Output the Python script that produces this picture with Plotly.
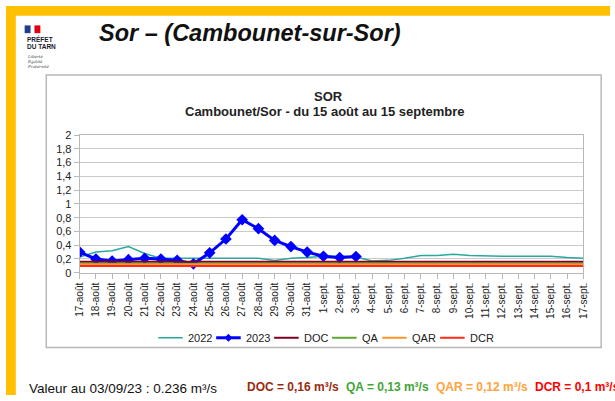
import plotly.graph_objects as go

# ---------------- data ----------------
dates = ["17-août", "18-août", "19-août", "20-août", "21-août", "22-août", "23-août",
         "24-août", "25-août", "26-août", "27-août", "28-août", "29-août", "30-août",
         "31-août", "1-sept.", "2-sept.", "3-sept.", "4-sept.", "5-sept.", "6-sept.",
         "7-sept.", "8-sept.", "9-sept.", "10-sept.", "11-sept.", "12-sept.", "13-sept.",
         "14-sept.", "15-sept.", "16-sept.", "17-sept."]
q2022 = [0.23, 0.30, 0.32, 0.38, 0.28, 0.21, 0.21, 0.21, 0.20, 0.21, 0.20, 0.21,
         0.18, 0.21, 0.22, 0.24, 0.24, 0.23, 0.17, 0.18, 0.21, 0.25, 0.25, 0.27,
         0.25, 0.24, 0.24, 0.24, 0.24, 0.24, 0.22, 0.21]
q2023 = [0.30, 0.20, 0.17, 0.19, 0.21, 0.20, 0.18, 0.13, 0.29, 0.49, 0.77, 0.64,
         0.47, 0.38, 0.30, 0.24, 0.22, 0.236]
DOC = 0.16
QA = 0.13
QAR = 0.12
DCR = 0.10
y_tickvals = [0, 0.2, 0.4, 0.6, 0.8, 1, 1.2, 1.4, 1.6, 1.8, 2]
y_ticktext = ["0", "0,2", "0,4", "0,6", "0,8", "1", "1,2", "1,4", "1,6", "1,8", "2"]
legend_names = ["2022", "2023", "DOC", "QA", "QAR", "DCR"]

# ---------------- style ----------------
W, H = 615, 401
FONT = "Liberation Sans, Arial, sans-serif"
C2022 = "#2BA89E"
C2023 = "#0000FF"
CDOC = "#7E0021"
CQA = "#5FA830"
CQAR = "#FF9526"
CDCR = "#FF2A1A"
GRID = "#CACACA"
FRAME = "#B8B8B8"


def px(x):
    return x / W


def py(y):
    return 1 - y / H


fig = go.Figure()
fig.add_trace(go.Scatter(x=dates, y=q2022, mode="lines", name="2022",
                         line=dict(color=C2022, width=1.5)))
fig.add_trace(go.Scatter(x=dates[:len(q2023)], y=q2023, mode="lines+markers", name="2023",
                         line=dict(color=C2023, width=3),
                         marker=dict(symbol="diamond", size=9, color=C2023)))
for val, col, nm in [(DOC, CDOC, "DOC"), (QA, CQA, "QA"), (QAR, CQAR, "QAR"), (DCR, CDCR, "DCR")]:
    fig.add_trace(go.Scatter(x=dates, y=[val] * len(dates), mode="lines", name=nm,
                             line=dict(color=col, width=2)))

shapes = []
annotations = []

# page decoration
shapes.append(dict(type="rect", xref="paper", yref="paper", x0=px(0), x1=px(W), y0=py(0), y1=py(10),
                   fillcolor="#FFC000", line=dict(width=0), layer="below"))
shapes.append(dict(type="rect", xref="paper", yref="paper", x0=px(0), x1=px(10), y0=py(0), y1=py(H),
                   fillcolor="#FFC000", line=dict(width=0), layer="below"))
# chart frame
shapes.append(dict(type="rect", xref="paper", yref="paper", x0=px(41), x1=px(606), y0=py(71), y1=py(352),
                   fillcolor="white", line=dict(color=FRAME, width=1.5), layer="below"))
# logo flag
shapes.append(dict(type="rect", xref="paper", yref="paper", x0=px(19), x1=px(25), y0=py(20), y1=py(28),
                   fillcolor="#1F3C8F", line=dict(width=0)))
shapes.append(dict(type="rect", xref="paper", yref="paper", x0=px(29), x1=px(35), y0=py(20), y1=py(28),
                   fillcolor="#E1000F", line=dict(width=0)))
annotations.append(dict(x=px(19), y=py(34), xref="paper", yref="paper", xanchor="left", yanchor="middle",
                        text="<b>PRÉFET</b>", showarrow=False, font=dict(family=FONT, size=6.5, color="#1a1a2e")))
annotations.append(dict(x=px(19), y=py(41.5), xref="paper", yref="paper", xanchor="left", yanchor="middle",
                        text="<b>DU TARN</b>", showarrow=False, font=dict(family=FONT, size=6.5, color="#1a1a2e")))
for i, t in enumerate(["Liberté", "Égalité", "Fraternité"]):
    annotations.append(dict(x=px(19), y=py(52 + i * 5), xref="paper", yref="paper", xanchor="left",
                            yanchor="middle", text="<i>" + t + "</i>", showarrow=False,
                            font=dict(family="DejaVu Serif", size=4, color="#444")))

# page title
annotations.append(dict(x=px(93), y=py(28), xref="paper", yref="paper", xanchor="left", yanchor="middle",
                        text="<b><i>Sor – (Cambounet-sur-Sor)</i></b>", showarrow=False,
                        font=dict(family=FONT, size=23.5, color="#111")))
# chart titles
annotations.append(dict(x=px(328), y=py(93.5), xref="paper", yref="paper", xanchor="center", yanchor="middle",
                        text="<b>SOR</b>", showarrow=False, font=dict(family=FONT, size=13, color="#222")))
annotations.append(dict(x=px(325), y=py(109), xref="paper", yref="paper", xanchor="center", yanchor="middle",
                        text="<b>Cambounet/Sor - du 15 août au 15 septembre</b>", showarrow=False,
                        font=dict(family=FONT, size=13, color="#222")))

# custom legend
leg_y = 342
leg_items = [(155, C2022, 1.5), (214, C2023, 3), (273, CDOC, 2), (332, CQA, 2), (383, CQAR, 2), (442, CDCR, 2)]
for (x0, col, w), nm in zip(leg_items, legend_names):
    shapes.append(dict(type="line", xref="paper", yref="paper", x0=px(x0), x1=px(x0 + 25),
                       y0=py(leg_y), y1=py(leg_y), line=dict(color=col, width=w)))
    annotations.append(dict(x=px(x0 + 28), y=py(leg_y), xref="paper", yref="paper", xanchor="left",
                            yanchor="middle", text=nm, showarrow=False,
                            font=dict(family=FONT, size=11, color="#222")))
cx, cy, r = 226.5, leg_y, 3.5
shapes.append(dict(type="path", xref="paper", yref="paper",
                   path=f"M {px(cx - r)},{py(cy)} L {px(cx)},{py(cy - r)} L {px(cx + r)},{py(cy)} "
                        f"L {px(cx)},{py(cy + r)} Z",
                   fillcolor=C2023, line=dict(color=C2023, width=1)))

# bottom texts
annotations.append(dict(x=px(21), y=py(394), xref="paper", yref="paper", xanchor="left", yanchor="middle",
                        text="Valeur au 03/09/23 : 0.236 m³/s", showarrow=False,
                        font=dict(family=FONT, size=13.5, color="#111")))
for x0, col, t in [(243, "#992B0E", "DOC = 0,16 m³/s"), (344, "#3FA535", "QA = 0,13 m³/s"),
                   (436, "#FFA33A", "QAR = 0,12 m³/s"), (537, "#FF0000", "DCR = 0,1 m³/s")]:
    annotations.append(dict(x=px(x0), y=py(392.5), xref="paper", yref="paper", xanchor="left",
                            yanchor="middle", text="<b>" + t + "</b>", showarrow=False,
                            font=dict(family=FONT, size=12, color=col)))

fig.update_layout(
    width=W, height=H,
    margin=dict(l=0, r=0, t=0, b=0, pad=0),
    paper_bgcolor="white", plot_bgcolor="white",
    showlegend=False,
    shapes=shapes, annotations=annotations,
    font=dict(family=FONT, color="#222"),
    xaxis=dict(domain=[px(75), px(588)], type="category", range=[0, len(dates) - 1],
               categoryorder="array", categoryarray=dates,
               showgrid=False, zeroline=False, showline=True, mirror=True, linecolor=FRAME, linewidth=1,
               ticks="outside", ticklen=5, tickcolor=FRAME, tickangle=-90,
               tickfont=dict(family=FONT, size=10, color="#222")),
    yaxis=dict(domain=[py(275), py(133)], range=[0, 2], tickvals=y_tickvals, ticktext=y_ticktext,
               showgrid=True, gridcolor=GRID, gridwidth=1, zeroline=False,
               showline=True, mirror=True, linecolor=FRAME, linewidth=1,
               ticks="outside", ticklen=5, tickcolor=FRAME,
               tickfont=dict(family=FONT, size=11, color="#222")),
)

fig.write_html("out.html", config={"displayModeBar": False},
               post_script="document.body.style.margin='0px';document.body.style.overflow='hidden';")
